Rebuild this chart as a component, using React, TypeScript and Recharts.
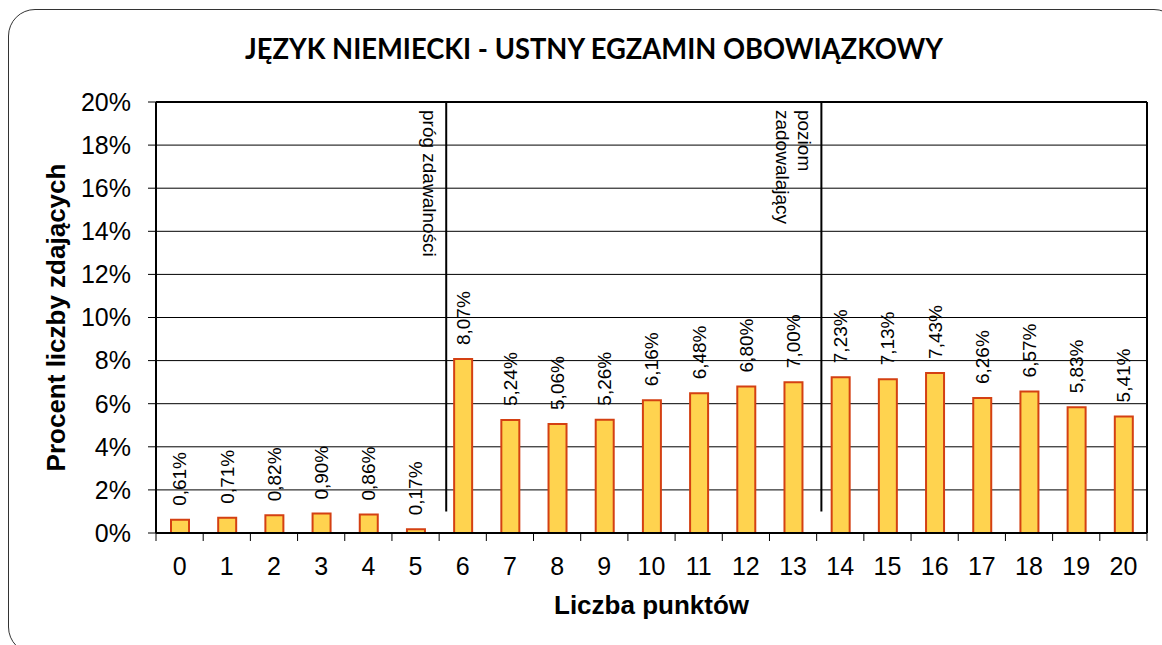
import React from 'react';
import { BarChart, Bar, XAxis, YAxis, CartesianGrid, ReferenceLine, LabelList, Label } from 'recharts';

// points scored (x axis categories)
const points = [0, 1, 2, 3, 4, 5, 6, 7, 8, 9, 10, 11, 12, 13, 14, 15, 16, 17, 18, 19, 20];
// percent of candidates per score
const percents = [0.61, 0.71, 0.82, 0.9, 0.86, 0.17, 8.07, 5.24, 5.06, 5.26, 6.16, 6.48, 6.8, 7.0, 7.23, 7.13, 7.43, 6.26, 6.57, 5.83, 5.41];
const yTicks = [0, 2, 4, 6, 8, 10, 12, 14, 16, 18, 20];
// tick marks sit between categories, labels on them
const xTicks = [-0.5, ...points.flatMap((p) => [p, p + 0.5])];

// threshold markers
const thresholdAt = [5.65, 13.6];
const thresholdText = [['próg zdawalności'], ['poziom', 'zadowalający']];
const thresholdFrom = 1;
const thresholdTo = 20;

const chartData = points.map((p, i) => ({ x: p, value: percents[i] }));

const FONT = '"Liberation Sans", Arial, sans-serif';

const XTick = (props: any) => {
    const { x, y, payload } = props;
    const v = payload.value;
    if (Number.isInteger(v)) {
        return (
            <text x={x} y={y + 42} textAnchor="middle" fontSize={25} fill="#000" fontFamily={FONT}>
                {v}
            </text>
        );
    }
    return <line x1={x} x2={x} y1={y} y2={y + 8} stroke="#000" strokeWidth={1} />;
};

const BarValue = (props: any) => {
    const { x, y, width, value } = props;
    const cx = x + width / 2;
    const ay = y - 14;
    return (
        <text
            x={cx}
            y={ay}
            transform={`rotate(-90, ${cx}, ${ay})`}
            textAnchor="start"
            dominantBaseline="central"
            fontSize={19}
            fill="#000"
            fontFamily={FONT}
        >
            {Number(value).toFixed(2).replace('.', ',') + '%'}
        </text>
    );
};

const thresholdLabel = (lines: string[]) => (props: any) => {
    const vb = props.viewBox || {};
    const lx = (vb.x ?? vb.x1) - 9;
    const ly = (vb.y ?? Math.min(vb.y1, vb.y2)) + 8;
    return (
        <text
            x={lx}
            y={ly}
            transform={`rotate(90, ${lx}, ${ly})`}
            dominantBaseline="hanging"
            fontSize={19}
            fill="#000"
            fontFamily={FONT}
        >
            {lines.map((t, i) => (
                <tspan key={i} x={lx} dy={i === 0 ? 0 : '1.2em'}>
                    {t}
                </tspan>
            ))}
        </text>
    );
};

const App: React.FC = () => {
    return (
        <div style={{ position: 'relative', width: 1162, height: 645, overflow: 'hidden', background: '#fff' }}>
            <style>{'body{margin:0;overflow:hidden}'}</style>
            <div
                style={{
                    position: 'absolute',
                    left: 8,
                    top: 9,
                    width: 1173,
                    height: 645,
                    border: '1.5px solid #333',
                    borderRadius: 27,
                    boxSizing: 'border-box',
                }}
            />
            <svg width={1162} height={80} style={{ position: 'absolute', left: 0, top: 0 }}>
                <text
                    x={594}
                    y={59}
                    textAnchor="middle"
                    fontSize={29}
                    fontWeight="bold"
                    fontFamily="Lato, 'Open Sans', sans-serif"
                    textLength={698}
                    lengthAdjust="spacingAndGlyphs"
                    fill="#000"
                >
                    JĘZYK NIEMIECKI - USTNY EGZAMIN OBOWIĄZKOWY
                </text>
            </svg>
            <div style={{ position: 'absolute', left: 0, top: 0 }}>
                <BarChart
                    width={1162}
                    height={645}
                    data={chartData}
                    margin={{ top: 102, right: 15, bottom: 24, left: 56 }}
                    style={{ fontFamily: FONT }}
                >
                    <CartesianGrid vertical={false} stroke="#000" strokeWidth={1} />
                    <XAxis
                        dataKey="x"
                        type="number"
                        domain={[-0.5, 20.5]}
                        ticks={xTicks}
                        interval={0}
                        tick={<XTick />}
                        tickLine={false}
                        tickSize={0}
                        tickMargin={0}
                        height={88}
                        axisLine={{ stroke: '#000', strokeWidth: 2 }}
                    >
                        <Label
                            content={(p: any) => {
                                const vb = p.viewBox;
                                return (
                                    <text
                                        x={vb.x + vb.width / 2}
                                        y={vb.y + 81}
                                        textAnchor="middle"
                                        fontSize={26}
                                        fontWeight="bold"
                                        fill="#000"
                                        fontFamily={FONT}
                                    >
                                        Liczba punktów
                                    </text>
                                );
                            }}
                        />
                    </XAxis>
                    <YAxis
                        type="number"
                        domain={[0, 20]}
                        ticks={yTicks}
                        interval={0}
                        width={100}
                        tickFormatter={(v: number) => `${v}%`}
                        tick={{ fontSize: 25, fill: '#000', fontFamily: FONT }}
                        tickSize={8}
                        tickMargin={17}
                        tickLine={{ stroke: '#000' }}
                        axisLine={{ stroke: '#000', strokeWidth: 2 }}
                    >
                        <Label
                            content={(p: any) => {
                                const vb = p.viewBox;
                                const lx = vb.x + 9;
                                const ly = vb.y + vb.height / 2;
                                return (
                                    <text
                                        x={lx}
                                        y={ly}
                                        transform={`rotate(-90, ${lx}, ${ly})`}
                                        textAnchor="middle"
                                        fontSize={26}
                                        fontWeight="bold"
                                        fill="#000"
                                        fontFamily={FONT}
                                    >
                                        Procent liczby zdających
                                    </text>
                                );
                            }}
                        />
                    </YAxis>
                    <ReferenceLine y={20} stroke="#000" strokeWidth={2} />
                    <ReferenceLine x={20.5} stroke="#000" strokeWidth={2} />
                    <Bar
                        dataKey="value"
                        fill="#FFD34F"
                        stroke="#D44012"
                        strokeWidth={2}
                        barSize={18}
                        isAnimationActive={false}
                    >
                        <LabelList dataKey="value" content={<BarValue />} />
                    </Bar>
                    {thresholdAt.map((t, i) => (
                        <ReferenceLine
                            key={i}
                            segment={[
                                { x: t, y: thresholdTo },
                                { x: t, y: thresholdFrom },
                            ]}
                            stroke="#000"
                            strokeWidth={2}
                            label={thresholdLabel(thresholdText[i])}
                        />
                    ))}
                </BarChart>
            </div>
        </div>
    );
};

export default App;
